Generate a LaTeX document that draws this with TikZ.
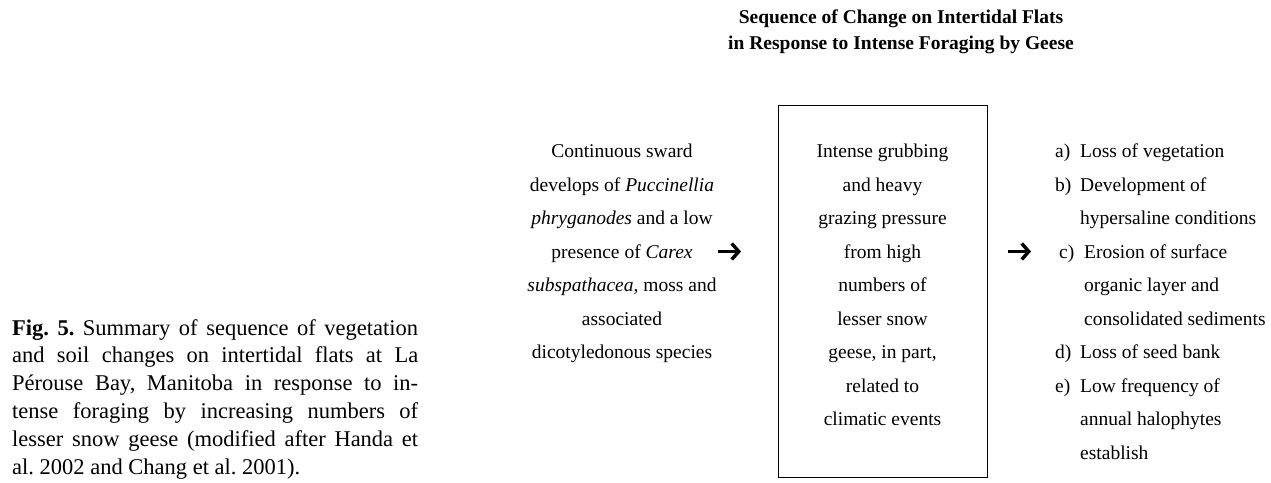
\documentclass[tikz,border=0pt]{standalone}
\usepackage{fontspec}
\setmainfont{Liberation Serif}
\usetikzlibrary{arrows.meta}
\frenchspacing
\begin{document}
\begin{tikzpicture}[x=1pt,y=-1pt,
  body/.style={font=\fontsize{19.5}{33.5}\selectfont, inner sep=0pt, align=center, anchor=north},
  listtext/.style={font=\fontsize{19.5}{33.5}\selectfont, inner sep=0pt, align=left, anchor=north west},
  titletext/.style={font=\bfseries\fontsize{19.5}{26}\selectfont, inner sep=0pt, align=center, anchor=north},
  stagebox/.style={draw, line width=1.2pt, inner sep=0pt, anchor=north west},
  bigarrow/.style={line width=3.4pt, -{Straight Barb[length=7pt,width=16pt]}},
]
\useasboundingbox (0,0) rectangle (1271,482);
% title
\node[titletext] (title) at (901,4.8) {\strut Sequence of Change on Intertidal Flats\\in Response to Intense Foraging by Geese};
% left text
\node[body] (left) at (622,134.05) {\strut Continuous sward\\develops of \textit{Puccinellia}\\\textit{phryganodes} and a low\\presence of \textit{Carex}\\\textit{subspathacea}, moss and\\associated\\dicotyledonous species};
% box
\node[stagebox, minimum width=209pt, minimum height=372pt] (box) at (778,105) {};
\node[body] (boxtext) at (882.5,134.05) {\strut Intense grubbing\\and heavy\\grazing pressure\\from high\\numbers of\\lesser snow\\geese, in part,\\related to\\climatic events};
% list
\node[listtext] (list) at (1055,134.05) {\strut\makebox[25pt][l]{a)}Loss of vegetation\\
\makebox[25pt][l]{b)}Development of\\
\hspace*{25pt}hypersaline conditions\\
\hspace*{4pt}\makebox[25pt][l]{c)}Erosion of surface\\
\hspace*{29pt}organic layer and\\
\hspace*{29pt}consolidated sediments\\
\makebox[25pt][l]{d)}Loss of seed bank\\
\makebox[25pt][l]{e)}Low frequency of\\
\hspace*{25pt}annual halophytes\\
\hspace*{25pt}establish};
% arrows
\coordinate (a1s) at (718,251.5);
\coordinate (a1e) at (741,251.5);
\coordinate (a2s) at (1008,251.5);
\coordinate (a2e) at (1031,251.5);
\draw[bigarrow] (a1s) -- (a1e);
\draw[bigarrow] (a2s) -- (a2e);
% caption
\node[inner sep=0pt, anchor=north west] (caption) at (12,315.5) {\parbox[t]{406pt}{\fontsize{22.5}{27.8}\selectfont\frenchspacing\hyphenpenalty=10000\strut\textbf{Fig. 5.} Summary of sequence of vegetation\linebreak and soil changes on intertidal flats at La\linebreak P\'erouse Bay, Manitoba in response to in-\linebreak tense foraging by increasing numbers of\linebreak lesser snow geese (modified after Handa et\linebreak al. 2002 and Chang et al. 2001).}};
\end{tikzpicture}
\end{document}
